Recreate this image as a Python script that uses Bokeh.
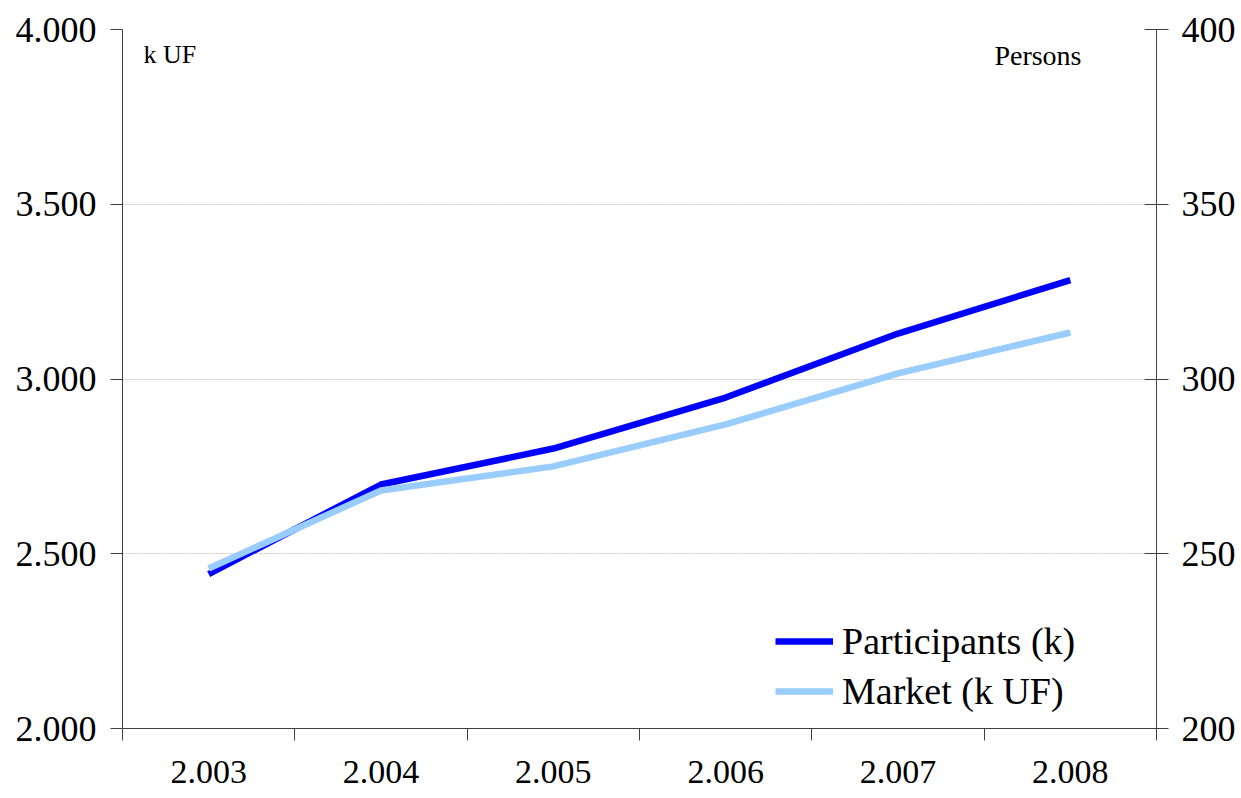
from bokeh.plotting import figure
from bokeh.models import (Range1d, LinearAxis, FixedTicker, Label, Legend, LegendItem)
from bokeh.embed import file_html
from bokeh.resources import INLINE

years = ["2.003", "2.004", "2.005", "2.006", "2.007", "2.008"]
participants_k = [244.2, 269.8, 280.1, 294.7, 313.0, 328.3]    # right axis, persons (k)
market_kuf = [2458, 2681, 2750, 2870, 3016, 3133]              # left axis, k UF

left_ticks = [2000, 2500, 3000, 3500, 4000]
left_labels = ["2.000", "2.500", "3.000", "3.500", "4.000"]
right_ticks = [200, 250, 300, 350, 400]
right_labels = ["200", "250", "300", "350", "400"]

FONT = "Liberation Serif"
AXC = "#404040"

xs = [i + 0.5 for i in range(len(years))]

p = figure(width=1238, height=798, output_backend="svg", toolbar_location=None,
           x_range=Range1d(0, len(years)), y_range=Range1d(2000, 4000),
           min_border_left=122, min_border_right=81, min_border_top=29,
           min_border_bottom=70)
p.outline_line_color = None
p.background_fill_color = "white"
p.border_fill_color = "white"
p.extra_y_ranges = {"persons": Range1d(200, 400)}

# x axis
xa = p.xaxis[0]
xa.ticker = FixedTicker(ticks=xs, minor_ticks=list(range(len(years) + 1)))
xa.major_label_overrides = {x: y for x, y in zip(xs, years)}
xa.major_tick_out = 0
xa.major_tick_in = 0
xa.minor_tick_out = 12
xa.minor_tick_in = 0
xa.minor_tick_line_color = AXC
xa.axis_line_color = AXC
xa.major_label_text_font = FONT
xa.major_label_text_font_size = "34px"
xa.major_label_text_color = "black"
xa.major_label_standoff = 20

# left axis
ya = p.yaxis[0]
ya.ticker = FixedTicker(ticks=left_ticks, minor_ticks=[])
ya.major_label_overrides = {t: l for t, l in zip(left_ticks, left_labels)}
ya.major_tick_out = 12
ya.major_tick_in = 0
ya.major_tick_line_color = AXC
ya.axis_line_color = AXC
ya.major_label_text_font = FONT
ya.major_label_text_font_size = "36px"
ya.major_label_text_color = "black"
ya.major_label_standoff = 14

# right axis
ra = LinearAxis(y_range_name="persons",
                ticker=FixedTicker(ticks=right_ticks, minor_ticks=[]))
ra.major_label_overrides = {t: l for t, l in zip(right_ticks, right_labels)}
ra.major_tick_out = 12
ra.major_tick_in = 12
ra.major_tick_line_color = AXC
ra.axis_line_color = AXC
ra.major_label_text_font = FONT
ra.major_label_text_font_size = "36px"
ra.major_label_text_color = "black"
ra.major_label_standoff = 13
p.add_layout(ra, "right")

p.xgrid.grid_line_color = None
p.ygrid.grid_line_color = "#c8c8c8"
p.ygrid.grid_line_dash = "2 1"
p.ygrid.grid_line_width = 1

r1 = p.line(xs, participants_k, y_range_name="persons", line_color="#0000FF",
            line_width=6.5)
r2 = p.line(xs, market_kuf, line_color="#99CCFF", line_width=6.5)

legend = Legend(items=[LegendItem(label="Participants (k)", renderers=[r1]),
                       LegendItem(label="Market (k UF)", renderers=[r2])],
                location=(653, 15))
legend.label_text_font = FONT
legend.label_text_font_size = "38px"
legend.label_text_color = "black"
legend.glyph_width = 58
legend.glyph_height = 40
legend.label_height = 40
legend.label_standoff = 9
legend.spacing = 6
legend.padding = 0
legend.margin = 0
legend.border_line_color = None
legend.background_fill_alpha = 0
p.add_layout(legend, "center")

p.add_layout(Label(x=0, y=4000, x_offset=21, y_offset=-10, text="k UF",
                   text_font=FONT, text_font_size="26px", text_baseline="top",
                   text_color="black"))
p.add_layout(Label(x=len(years), y=4000, x_offset=-75, y_offset=-10,
                   text="Persons", text_font=FONT, text_font_size="28px",
                   text_baseline="top", text_align="right", text_color="black"))

open("out.html", "w").write(file_html(p, INLINE))
